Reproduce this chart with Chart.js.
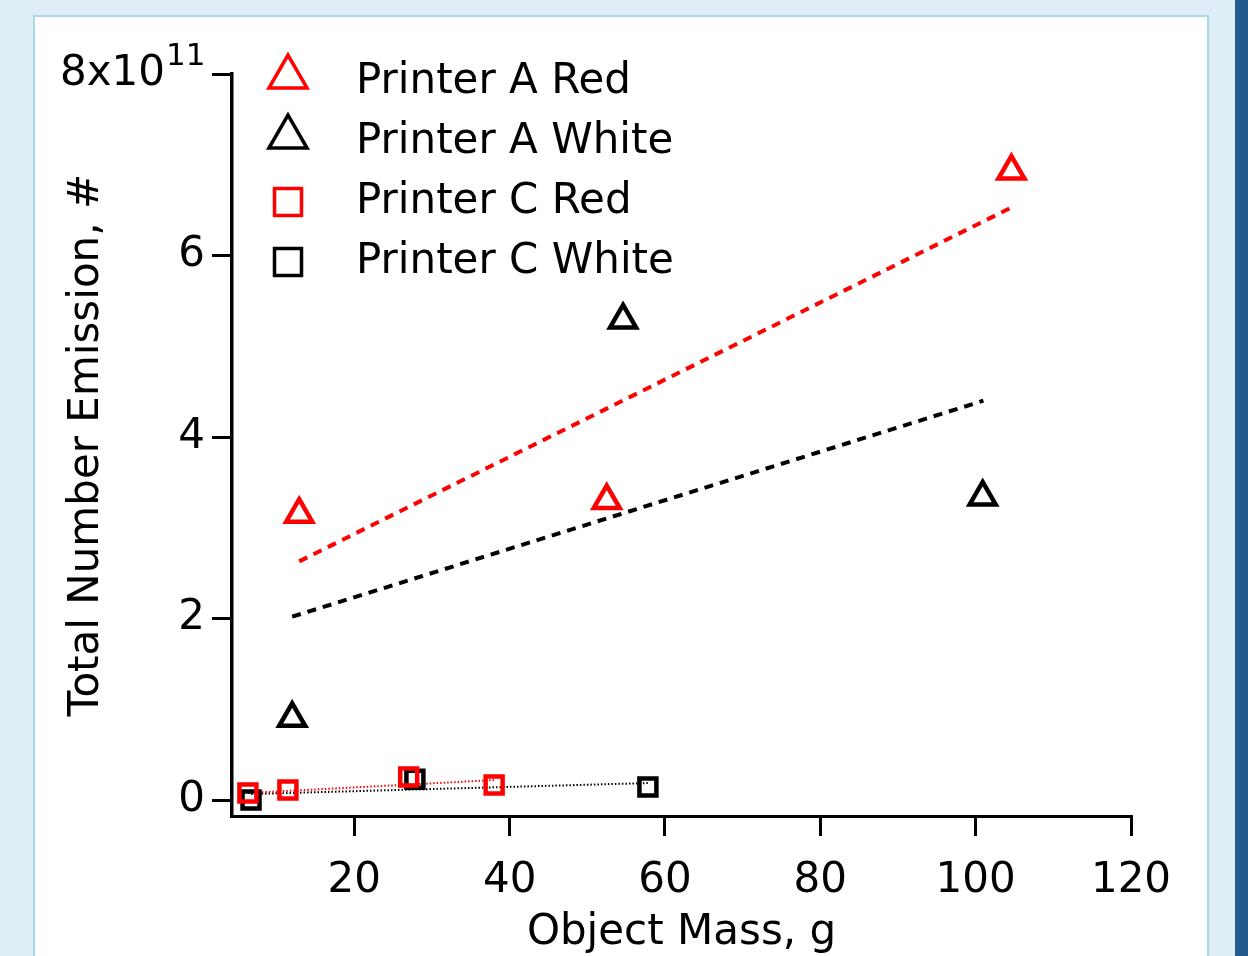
<!DOCTYPE html>
<html>
<head>
<meta charset="utf-8">
<script src="https://cdn.jsdelivr.net/npm/chart.js@4/dist/chart.umd.min.js"></script>
<style>
  html, body { margin: 0; padding: 0; overflow: hidden; }
  body { width: 1248px; height: 956px; background: #dfeef6; position: relative; }
  #panel { position: absolute; left: 33px; top: 15px; width: 1176px; height: 1000px;
           background: #fff; border: 2px solid #a9d8e8; box-sizing: border-box; }
  #strip { position: absolute; left: 1235px; top: 0; width: 13px; height: 956px; background: #245a8d; }
  #wrap { position: absolute; left: 0; top: 0; width: 1248px; height: 956px; }
</style>
</head>
<body>
<div id="panel"></div>
<div id="strip"></div>
<div id="wrap"><canvas id="chart" width="1248" height="956"></canvas></div>
<script>
// values (mass in g, emission in particles)
const seriesLabels = ['Printer A Red', 'Printer A White', 'Printer C Red', 'Printer C White'];

const printerARedMass = [12.9, 52.5, 104.6];
const printerARedEmission = [3.15e11, 3.30e11, 6.93e11];
const printerAWhiteMass = [12.0, 54.6, 100.9];
const printerAWhiteEmission = [0.90e11, 5.29e11, 3.34e11];
const printerCRedMass = [6.3, 11.45, 27.0, 38.0];
const printerCRedEmission = [0.077e11, 0.11e11, 0.253e11, 0.165e11];
const printerCWhiteMass = [6.7, 27.8, 57.8];
const printerCWhiteEmission = [0.0, 0.23e11, 0.143e11];

// linear fit end points
const fitARedMass = [12.9, 104.4];
const fitARedEmission = [2.63e11, 6.52e11];
const fitAWhiteMass = [12.0, 101.0];
const fitAWhiteEmission = [2.02e11, 4.40e11];
const fitCRedMass = [6.3, 38.0];
const fitCRedEmission = [0.077e11, 0.22e11];
const fitCWhiteMass = [6.7, 57.8];
const fitCWhiteEmission = [0.066e11, 0.187e11];

const xTicks = [20, 40, 60, 80, 100, 120];
const yTicks = [0, 2e11, 4e11, 6e11, 8e11];

const FONT = 'DejaVu Sans';
const RED = '#ff0000';
const BLACK = '#000000';

function pts(xs, ys) {
  return xs.map((x, i) => ({ x: x, y: ys[i] }));
}

function markerSet(label, xs, ys, color, style, radius) {
  return {
    label: label,
    data: pts(xs, ys),
    pointStyle: style,
    pointRadius: radius,
    pointHoverRadius: radius,
    pointBorderColor: color,
    pointBackgroundColor: 'rgba(0,0,0,0)',
    pointBorderWidth: 4.5,
    showLine: false,
    clip: false,
    order: 1
  };
}

function fitSet(xs, ys, color, width, dash) {
  return {
    label: '',
    data: pts(xs, ys),
    showLine: true,
    borderColor: color,
    borderWidth: width,
    borderDash: dash,
    pointRadius: 0,
    fill: false,
    clip: false,
    isFit: true,
    order: 2
  };
}

// legend drawn inside the plot, plus the 10^11 exponent
const extras = {
  id: 'extras',
  afterDraw(chart) {
    const ctx = chart.ctx;
    ctx.save();
    const yScale = chart.scales.y;
    const topY = yScale.getPixelForValue(8e11);
    ctx.fillStyle = BLACK;
    ctx.font = '31px "' + FONT + '"';
    ctx.textAlign = 'left';
    ctx.textBaseline = 'alphabetic';
    ctx.fillText('11', 166, topY - 9);

    const items = chart.data.datasets.filter(d => !d.isFit);
    items.forEach((d, i) => {
      const base = 93 + i * 60;
      const cy = base - 16;
      const cx = 288;
      ctx.strokeStyle = d.pointBorderColor;
      ctx.lineWidth = 3.5;
      ctx.beginPath();
      if (d.pointStyle === 'triangle') {
        const r = 22;
        ctx.moveTo(cx, cy - r);
        ctx.lineTo(cx + r * Math.sin(2 * Math.PI / 3), cy - r * Math.cos(2 * Math.PI / 3));
        ctx.lineTo(cx + r * Math.sin(4 * Math.PI / 3), cy - r * Math.cos(4 * Math.PI / 3));
        ctx.closePath();
      } else {
        const h = 13.5;
        ctx.rect(cx - h, cy + 5 - h, 2 * h, 2 * h);
      }
      ctx.stroke();
      ctx.fillStyle = BLACK;
      ctx.font = '42px "' + FONT + '"';
      ctx.textAlign = 'left';
      ctx.textBaseline = 'alphabetic';
      ctx.fillText(d.label, 356, base);
    });
    ctx.restore();
  }
};

Chart.defaults.font.family = FONT;
Chart.defaults.color = BLACK;

const ctx = document.getElementById('chart').getContext('2d');
const chart = new Chart(ctx, {
  type: 'scatter',
  data: {
    datasets: [
      markerSet(seriesLabels[0], printerARedMass, printerARedEmission, RED, 'triangle', 15),
      markerSet(seriesLabels[1], printerAWhiteMass, printerAWhiteEmission, BLACK, 'triangle', 15),
      markerSet(seriesLabels[2], printerCRedMass, printerCRedEmission, RED, 'rect', 12),
      markerSet(seriesLabels[3], printerCWhiteMass, printerCWhiteEmission, BLACK, 'rect', 12),
      fitSet(fitARedMass, fitARedEmission, RED, 4, [9, 7]),
      fitSet(fitAWhiteMass, fitAWhiteEmission, BLACK, 4, [9, 7]),
      fitSet(fitCRedMass, fitCRedEmission, RED, 2, [1.5, 2]),
      fitSet(fitCWhiteMass, fitCWhiteEmission, BLACK, 2, [1.5, 2])
    ]
  },
  options: {
    responsive: false,
    animation: false,
    events: [],
    layout: { padding: { top: 74, right: 117, left: 0, bottom: 0 } },
    plugins: {
      legend: { display: false },
      tooltip: { enabled: false }
    },
    scales: {
      x: {
        type: 'linear',
        min: 4.25,
        max: 120,
        afterFit: s => { s.height = 140; },
        afterBuildTicks: s => { s.ticks = xTicks.map(v => ({ value: v })); },
        grid: { display: true, drawOnChartArea: false, drawTicks: true, tickLength: 20, color: BLACK, lineWidth: 3 },
        border: { display: true, color: BLACK, width: 3 },
        ticks: { font: { size: 42 }, color: BLACK, padding: 20, maxRotation: 0 },
        title: { display: true, text: 'Object Mass, g', font: { size: 42 }, color: BLACK, padding: { top: 0, bottom: -2 } }
      },
      y: {
        type: 'linear',
        min: -0.176e11,
        max: 8e11,
        afterFit: s => { s.width = 232; },
        afterBuildTicks: s => { s.ticks = yTicks.map(v => ({ value: v })); },
        grid: { display: true, drawOnChartArea: false, drawTicks: true, tickLength: 20, color: BLACK, lineWidth: 3 },
        border: { display: true, color: BLACK, width: 3.5 },
        ticks: {
          font: { size: 42 }, color: BLACK, padding: 7,
          callback: v => (v === 8e11 ? '8x10   ' : String(v / 1e11))
        },
        title: { display: true, text: 'Total Number Emission, #', font: { size: 42 }, color: BLACK, padding: { top: 62, bottom: 0 } }
      }
    }
  },
  plugins: [extras]
});
</script>
</body>
</html>
